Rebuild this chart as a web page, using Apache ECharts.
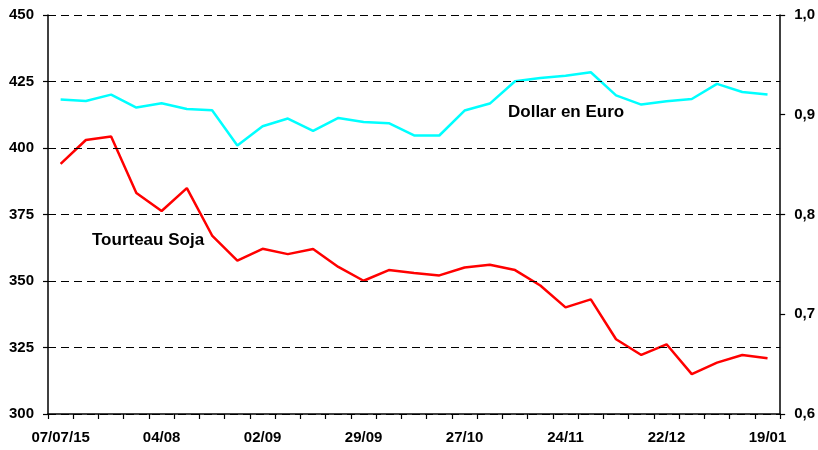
<!DOCTYPE html>
<html>
<head>
<meta charset="utf-8">
<script src="https://cdn.jsdelivr.net/npm/echarts@6/dist/echarts.min.js"></script>
<style>
html,body{margin:0;padding:0;background:#fff;}
#chart{width:818px;height:450px;}
</style>
</head>
<body>
<div id="chart"></div>
<script>
// Weekly dates (categories)
const categories = [
  "07/07/15","14/07","21/07","28/07","04/08","11/08","18/08","25/08",
  "02/09","08/09","15/09","22/09","29/09","06/10","13/10","20/10",
  "27/10","03/11","10/11","17/11","24/11","01/12","08/12","15/12",
  "22/12","29/12","05/01","12/01","19/01"
];
// Tourteau Soja (left axis)
const tourteauSoja = [
  394.0, 403.0, 404.3, 383.1, 376.3, 384.9, 367.1, 357.7,
  362.1, 360.1, 362.0, 355.3, 350.1, 354.1, 353.0, 352.1,
  355.1, 356.1, 354.1, 348.3, 340.1, 343.1, 328.1, 322.2,
  326.2, 315.0, 319.3, 322.2, 321.0
];
// Dollar en Euro (right axis)
const dollarEnEuro = [
  0.9152, 0.9138, 0.9202, 0.9072, 0.9115, 0.9057, 0.9045, 0.8691,
  0.8885, 0.8962, 0.8838, 0.8968, 0.8928, 0.8915, 0.8792, 0.8792,
  0.9042, 0.9112, 0.9336, 0.9369, 0.9391, 0.9426, 0.9195, 0.9102,
  0.9136, 0.9158, 0.9309, 0.9228, 0.9202
];
const leftTicks = [300, 325, 350, 375, 400, 425, 450];
const rightTicks = ["0,6", "0,7", "0,8", "0,9", "1,0"];

const FONT = '"Liberation Sans", Arial, sans-serif';
const labelStyle = {color: '#000', fontFamily: FONT, fontWeight: 'bold', fontSize: 15};

const chart = echarts.init(document.getElementById('chart'), null, {renderer: 'canvas'});
chart.setOption({
  animation: false,
  backgroundColor: '#fff',
  grid: {left: 48, right: 37, top: 15, bottom: 36, containLabel: false},
  xAxis: {
    type: 'category',
    position: 'bottom',
    data: categories,
    boundaryGap: true,
    z: 10,
    axisLine: {show: true, onZero: false, lineStyle: {color: '#000', width: 1.5}},
    axisTick: {show: true, interval: 0, alignWithLabel: false, inside: false, length: 5, lineStyle: {color: '#000', width: 1.2}},
    axisLabel: Object.assign({interval: 3, margin: 16}, labelStyle),
    splitLine: {show: false}
  },
  yAxis: [
    {
      type: 'value', min: leftTicks[0], max: leftTicks[leftTicks.length - 1], interval: 25,
      position: 'left',
      z: 10,
      axisLine: {show: true, lineStyle: {color: '#000', width: 1.5}},
      axisTick: {show: true, length: 5, lineStyle: {color: '#000', width: 1.2}},
      axisLabel: Object.assign({margin: 14}, labelStyle),
      splitLine: {show: true, lineStyle: {color: '#000', width: 1, type: [8, 5]}}
    },
    {
      type: 'value', min: 0.6, max: 1.0, interval: 0.1,
      position: 'right',
      z: 10,
      axisLine: {show: true, lineStyle: {color: '#000', width: 1.5}},
      axisTick: {show: true, length: 5, lineStyle: {color: '#000', width: 1.2}},
      axisLabel: Object.assign({
        margin: 14,
        formatter: function (v) { return rightTicks[Math.round((v - 0.6) * 10)]; }
      }, labelStyle),
      splitLine: {show: false}
    }
  ],
  series: [
    {
      name: 'Dollar en Euro', type: 'line', yAxisIndex: 1,
      data: dollarEnEuro, symbol: 'none',
      lineStyle: {color: '#00FFFF', width: 2.5}, z: 3
    },
    {
      name: 'Tourteau Soja', type: 'line', yAxisIndex: 0,
      data: tourteauSoja, symbol: 'none',
      lineStyle: {color: '#FF0000', width: 2.5}, z: 4
    }
  ],
  graphic: [
    {type: 'text', left: 92, top: 232, style: {text: 'Tourteau Soja', fill: '#000', font: 'bold 17px ' + FONT}},
    {type: 'text', left: 508, top: 104, style: {text: 'Dollar en Euro', fill: '#000', font: 'bold 17px ' + FONT}}
  ]
});
</script>
</body>
</html>
